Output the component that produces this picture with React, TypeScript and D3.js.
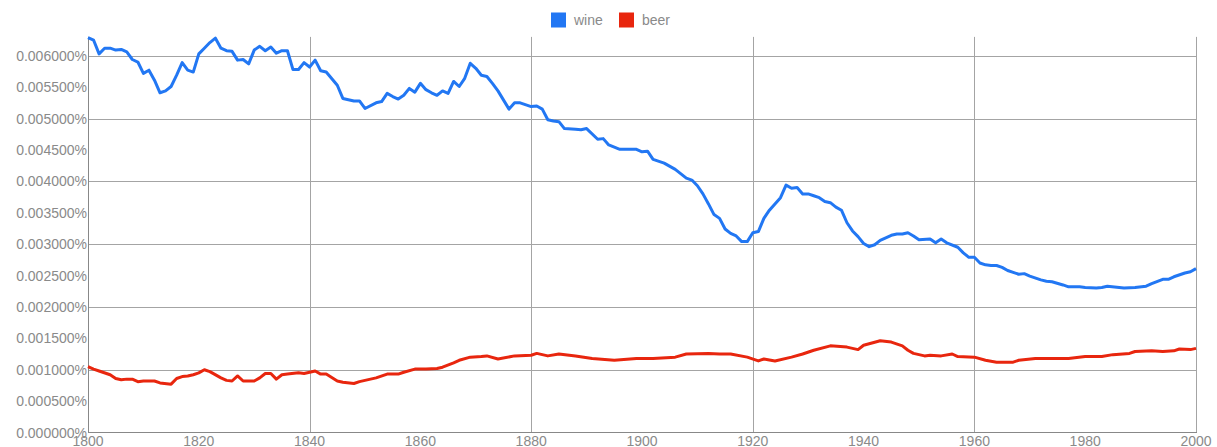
import { useEffect, useRef } from "react";
import * as d3 from "d3";

// values, in percent
const wineYears = [1800, 1801, 1802, 1803, 1804, 1805, 1806, 1807, 1808, 1809, 1810, 1811, 1812, 1813, 1814, 1815, 1816, 1817, 1818, 1819,
  1820, 1821, 1822, 1823, 1824, 1825, 1826, 1827, 1828, 1829, 1830, 1831, 1832, 1833, 1834, 1835, 1836, 1837, 1838, 1839,
  1840, 1841, 1842, 1843, 1845, 1846, 1848, 1849, 1850, 1852, 1853, 1854, 1855, 1856, 1857, 1858, 1859,
  1860, 1861, 1862, 1863, 1864, 1865, 1866, 1867, 1868, 1869, 1870, 1871, 1872, 1873, 1874, 1876, 1877, 1878,
  1880, 1881, 1882, 1883, 1884, 1885, 1886, 1888, 1889, 1890, 1892, 1893, 1894, 1896, 1898, 1899,
  1900, 1901, 1902, 1904, 1906, 1908, 1909, 1910, 1911, 1912, 1913, 1914, 1915, 1916, 1917, 1918, 1919,
  1920, 1921, 1922, 1923, 1925, 1926, 1927, 1928, 1929, 1930, 1931, 1932, 1933, 1934, 1935, 1936, 1937, 1938, 1939,
  1940, 1941, 1942, 1943, 1945, 1946, 1947, 1948, 1949, 1950, 1952, 1953, 1954, 1955, 1957, 1958, 1959,
  1960, 1961, 1962, 1963, 1964, 1965, 1966, 1967, 1968, 1969, 1970, 1972, 1973, 1974, 1976, 1977, 1979,
  1980, 1982, 1983, 1984, 1987, 1989, 1991, 1992, 1994, 1995, 1996, 1998, 1999, 2000];
const wineValues = [6.29, 6.25, 6.03, 6.12, 6.12, 6.09, 6.10, 6.06, 5.94, 5.90, 5.72, 5.77, 5.61, 5.41, 5.44, 5.51, 5.69, 5.89, 5.77, 5.74,
  6.03, 6.12, 6.21, 6.28, 6.12, 6.08, 6.07, 5.93, 5.94, 5.87, 6.09, 6.15, 6.08, 6.14, 6.04, 6.08, 6.08, 5.78, 5.78, 5.89,
  5.82, 5.93, 5.76, 5.74, 5.53, 5.32, 5.28, 5.28, 5.16, 5.25, 5.27, 5.40, 5.35, 5.31, 5.37, 5.48, 5.42,
  5.56, 5.46, 5.41, 5.37, 5.44, 5.40, 5.59, 5.51, 5.64, 5.88, 5.80, 5.69, 5.67, 5.56, 5.44, 5.15, 5.25, 5.25,
  5.19, 5.20, 5.15, 4.98, 4.96, 4.95, 4.84, 4.83, 4.82, 4.84, 4.67, 4.68, 4.58, 4.51, 4.51, 4.51,
  4.47, 4.48, 4.35, 4.29, 4.19, 4.05, 4.02, 3.93, 3.80, 3.64, 3.47, 3.41, 3.24, 3.17, 3.13, 3.04, 3.04,
  3.18, 3.20, 3.41, 3.54, 3.74, 3.94, 3.89, 3.90, 3.80, 3.80, 3.77, 3.74, 3.68, 3.66, 3.59, 3.54, 3.34, 3.21, 3.12,
  3.01, 2.96, 2.99, 3.06, 3.14, 3.16, 3.16, 3.18, 3.13, 3.07, 3.08, 3.02, 3.08, 3.02, 2.95, 2.86, 2.79,
  2.79, 2.70, 2.67, 2.66, 2.66, 2.63, 2.58, 2.55, 2.52, 2.53, 2.49, 2.43, 2.41, 2.40, 2.35, 2.32, 2.32,
  2.31, 2.30, 2.31, 2.33, 2.30, 2.31, 2.33, 2.37, 2.44, 2.44, 2.48, 2.54, 2.56, 2.61].map(v => v / 1000);

const beerYears = [1800, 1801, 1802, 1804, 1805, 1806, 1807, 1808, 1809, 1810, 1812, 1813, 1815, 1816, 1817, 1818, 1819,
  1820, 1821, 1822, 1824, 1825, 1826, 1827, 1828, 1830, 1831, 1832, 1833, 1834, 1835, 1836, 1838, 1839,
  1841, 1842, 1843, 1845, 1846, 1848, 1849, 1851, 1852, 1854, 1856, 1857, 1859,
  1861, 1863, 1864, 1866, 1867, 1869, 1871, 1872, 1874, 1877,
  1880, 1881, 1883, 1885, 1888, 1891, 1895, 1899,
  1902, 1906, 1908, 1912, 1914, 1916, 1919,
  1921, 1922, 1924, 1927, 1929, 1931, 1934, 1937, 1939,
  1940, 1943, 1945, 1947, 1948, 1949, 1951, 1952, 1954, 1956, 1957,
  1960, 1962, 1964, 1967, 1968, 1971, 1974, 1977,
  1980, 1983, 1985, 1988, 1989, 1992, 1994, 1996, 1997, 1999, 2000];
const beerValues = [1.05, 1.01, 0.98, 0.92, 0.86, 0.84, 0.85, 0.85, 0.81, 0.82, 0.82, 0.79, 0.77, 0.86, 0.89, 0.90, 0.92,
  0.95, 1.00, 0.97, 0.87, 0.83, 0.82, 0.90, 0.82, 0.82, 0.87, 0.94, 0.94, 0.85, 0.92, 0.93, 0.95, 0.94,
  0.98, 0.93, 0.93, 0.82, 0.80, 0.78, 0.81, 0.85, 0.87, 0.93, 0.93, 0.96, 1.01,
  1.01, 1.02, 1.04, 1.11, 1.15, 1.20, 1.21, 1.22, 1.17, 1.22,
  1.23, 1.26, 1.22, 1.25, 1.22, 1.18, 1.15, 1.18,
  1.18, 1.20, 1.25, 1.26, 1.25, 1.25, 1.20,
  1.14, 1.17, 1.14, 1.20, 1.25, 1.31, 1.38, 1.36, 1.32,
  1.39, 1.46, 1.44, 1.38, 1.31, 1.26, 1.22, 1.23, 1.22, 1.25, 1.21,
  1.20, 1.15, 1.12, 1.12, 1.15, 1.18, 1.18, 1.18,
  1.21, 1.21, 1.24, 1.26, 1.29, 1.30, 1.29, 1.30, 1.33, 1.32, 1.34].map(v => v / 1000);

const seriesNames = ["wine", "beer"];
const seriesColors = ["#2277f3", "#e8260e"];
const yTicks = [0, 0.0005, 0.001, 0.0015, 0.002, 0.0025, 0.003, 0.0035, 0.004, 0.0045, 0.005, 0.0055, 0.006];
const yGrid = [0.001, 0.002, 0.003, 0.004, 0.005, 0.006];
const xTicks = [1800, 1820, 1840, 1860, 1880, 1900, 1920, 1940, 1960, 1980, 2000];
const xGrid = [1840, 1880, 1920, 1960, 2000];

export default function App() {
  const ref = useRef<SVGSVGElement>(null);

  useEffect(() => {
    const svg = d3.select(ref.current);
    svg.selectAll("*").remove();

    const x = d3.scaleLinear().domain([1800, 2000]).range([88, 1196]);
    const y = d3.scaleLinear().domain([0, 0.0063]).range([432.5, 36.9]);
    const font = "'Liberation Sans', Arial, sans-serif";
    const fontSize = 14;

    // grid
    svg.append("g").selectAll("line").data(yGrid).join("line")
      .attr("x1", x(1800)).attr("x2", x(2000))
      .attr("y1", d => Math.round(y(d)) + 0.5).attr("y2", d => Math.round(y(d)) + 0.5)
      .attr("stroke", "#a4a4a4").attr("stroke-width", 1);
    svg.append("g").selectAll("line").data(xGrid).join("line")
      .attr("x1", d => Math.round(x(d)) + 0.5).attr("x2", d => Math.round(x(d)) + 0.5)
      .attr("y1", y(0.0063)).attr("y2", y(0))
      .attr("stroke", "#a4a4a4").attr("stroke-width", 1);

    // axes lines
    svg.append("line").attr("x1", 88.5).attr("x2", 88.5).attr("y1", y(0.0063)).attr("y2", y(0))
      .attr("stroke", "#888").attr("stroke-width", 1);
    svg.append("line").attr("x1", 88).attr("x2", x(2000) + 1).attr("y1", 432.5).attr("y2", 432.5)
      .attr("stroke", "#888").attr("stroke-width", 1);

    const fmt = d3.format(".6f");
    svg.append("g").selectAll("text").data(yTicks).join("text")
      .attr("x", 87).attr("y", d => y(d) + 5)
      .attr("text-anchor", "end")
      .attr("font-family", font).attr("font-size", fontSize).attr("fill", "#8a8a8a")
      .text(d => fmt(d) + "%");

    svg.append("g").selectAll("text").data(xTicks).join("text")
      .attr("x", d => x(d)).attr("y", 446)
      .attr("text-anchor", "middle")
      .attr("font-family", font).attr("font-size", fontSize).attr("fill", "#8a8a8a")
      .text(d => d);

    const line = d3.line<[number, number]>()
      .x(d => x(d[0]))
      .y(d => y(d[1]));

    const data: [number, number][][] = [
      wineYears.map((yr, i) => [yr, wineValues[i]]),
      beerYears.map((yr, i) => [yr, beerValues[i]]),
    ];

    data.forEach((pts, i) => {
      svg.append("path")
        .datum(pts)
        .attr("fill", "none")
        .attr("stroke", seriesColors[i])
        .attr("stroke-width", 3)
        .attr("stroke-linejoin", "round")
        .attr("d", line);
    });

    // legend
    const legendX = [551, 619];
    const legend = svg.append("g");
    seriesNames.forEach((name, i) => {
      legend.append("rect")
        .attr("x", legendX[i]).attr("y", 12.5)
        .attr("width", 15).attr("height", 15)
        .attr("fill", seriesColors[i]);
      legend.append("text")
        .attr("x", legendX[i] + 23).attr("y", 25)
        .attr("font-family", font).attr("font-size", fontSize).attr("fill", "#8a8a8a")
        .text(name);
    });
  }, []);

  return (
    <div style={{ position: "absolute", left: 0, top: 0, background: "#fff" }}>
      <svg ref={ref} width={1217} height={447} style={{ display: "block" }}></svg>
    </div>
  );
}
